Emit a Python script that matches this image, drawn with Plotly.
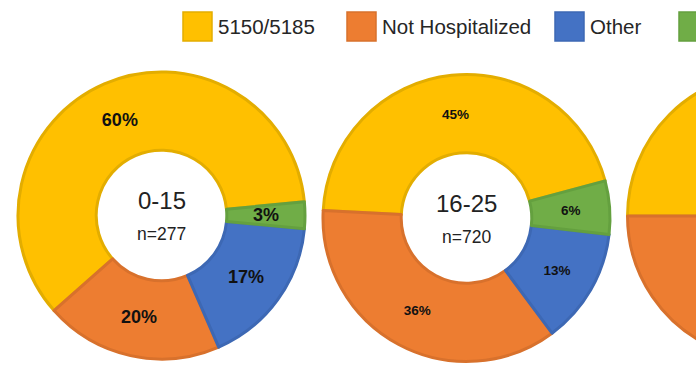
import math
import plotly.graph_objects as go

# --- data -------------------------------------------------------------
categories = ["5150/5185", "Not Hospitalized", "Other", "Voluntary"]
age_groups = ["0-15", "16-25", "26+"]
group_n = [277, 720, None]          # third panel is cut off in the source
pct_0_15 = [60, 20, 17, 3]
pct_16_25 = [45, 36, 13, 6]
pct_26_plus = [50, 38, 8, 4]        # only the left edge of this donut is visible

panels = [pct_0_15, pct_16_25, pct_26_plus]

# --- styling / layout -------------------------------------------------
FONT = "Arial, 'Liberation Sans', sans-serif"
FILL = ["#FFC000", "#ED7D31", "#4472C4", "#70AD47"]
EDGE = ["#E3AD00", "#D8712C", "#3D68B4", "#64A03F"]
W, H = 930, 365             # full chart; the page window only shows 696 px of it
VISIBLE_W = 696
R = 143.5                   # outer radius, px
HOLE = 0.455
centers = [(161.5, 215.5), (466.5, 218.0), (771.0, 216.0)]
rotations = [-131.5, -87, -90]
label_sizes = [18, 13.5, 13.5]
show_labels = [True, True, False]   # the third donut's labels are off the page
SMALL = 10                  # slices below this % get a label at ring middle


def note(x, y, text, size, color="#222222", bold=False, xanchor="center"):
    return dict(
        x=x / W, y=(H - y) / H, xref="paper", yref="paper",
        xanchor=xanchor, yanchor="middle", showarrow=False, text=text,
        font=dict(family=FONT, size=size, color=color,
                  weight="bold" if bold else "normal"),
    )


fig = go.Figure()
annotations = []

for vals, name, n, (cx, cy), rot, lsize, show in zip(
    panels, age_groups, group_n, centers, rotations, label_sizes, show_labels
):
    fig.add_trace(
        go.Pie(
            labels=categories,
            values=vals,
            hole=HOLE,
            sort=False,
            direction="counterclockwise",
            rotation=rot,
            marker=dict(colors=FILL, line=dict(color=EDGE, width=3)),
            texttemplate="%{percent:.0%}",
            textposition=["inside" if (v >= SMALL and show) else "none" for v in vals],
            insidetextorientation="horizontal",
            textfont=dict(family=FONT, size=lsize, color="#111111", weight="bold"),
            domain=dict(
                x=[(cx - R) / W, (cx + R) / W],
                y=[(H - cy - R) / H, (H - cy + R) / H],
            ),
            showlegend=False,
            hoverinfo="label+percent",
        )
    )
    if not show:
        continue

    # labels for thin slices: placed at the middle of the ring, like the source
    total = sum(vals)
    start = 90 - (rot + 360 * vals[0] / total)   # math angle where slice 0 begins
    cum = 0
    for v in vals:
        a = 360 * v / total
        if v < SMALL:
            mid = math.radians(start + cum + a / 2)
            rr = R * (1 + HOLE) / 2
            annotations.append(note(cx + rr * math.cos(mid), cy - rr * math.sin(mid),
                                    f"{v / total:.0%}", lsize, "#111111", bold=True))
        cum += a

    annotations.append(note(cx, cy - 15, name, 24))
    if n is not None:
        annotations.append(note(cx, cy + 18.5, f"n={n}", 17.5))

# legend drawn by hand (big square swatches)
legend_x = [183, 347, 555, 679]
shapes = []
for cat, x0, fc, ec in zip(categories, legend_x, FILL, EDGE):
    shapes.append(dict(
        type="rect", xref="paper", yref="paper",
        x0=x0 / W, x1=(x0 + 29) / W, y0=(H - 41) / H, y1=(H - 12) / H,
        fillcolor=fc, line=dict(color=ec, width=1.5),
    ))
    if x0 + 33 < VISIBLE_W - 10:
        annotations.append(note(x0 + 33, 26, cat, 20.5, "#262626", xanchor="left"))

fig.update_layout(
    width=W,
    height=H,
    margin=dict(l=0, r=0, t=0, b=0),
    paper_bgcolor="white",
    plot_bgcolor="white",
    annotations=annotations,
    shapes=shapes,
    showlegend=False,
)

fig.write_html(
    "out.html",
    post_script="document.body.style.margin='0';document.body.style.overflow='hidden';",
)
